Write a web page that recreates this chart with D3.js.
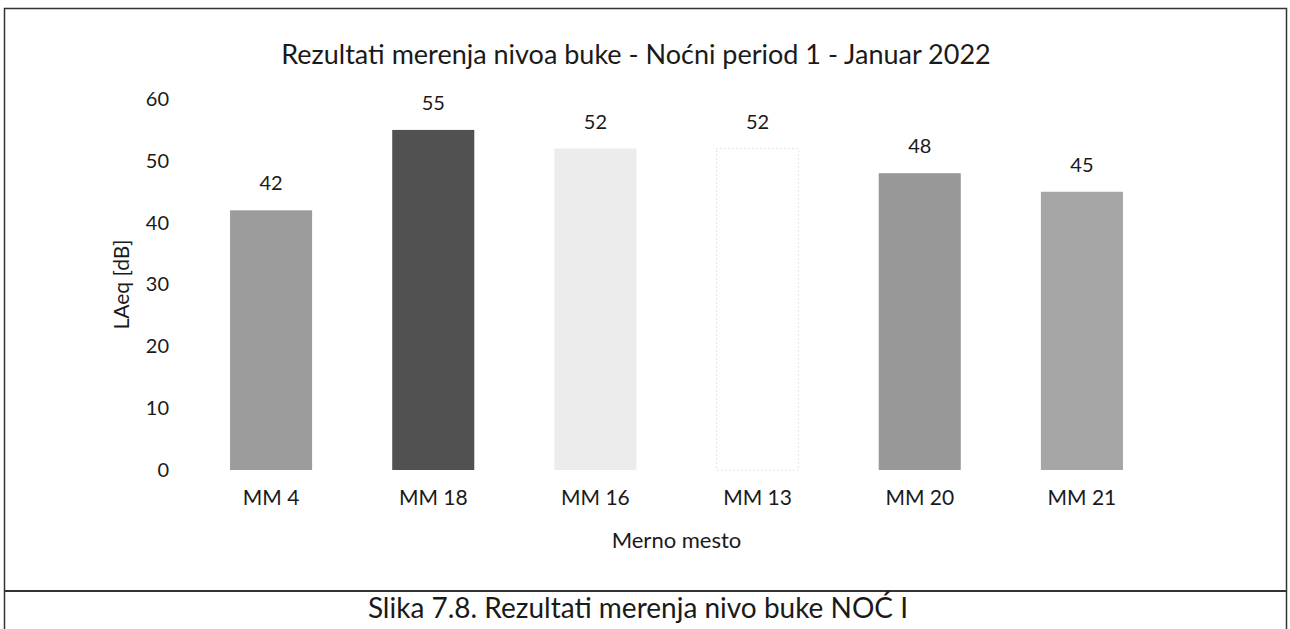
<!DOCTYPE html>
<html>
<head>
<meta charset="utf-8">
<script src="https://cdn.jsdelivr.net/npm/d3@7"></script>
<style>
  html, body { margin: 0; padding: 0; background: #fff; }
  svg { display: block; }
  text { font-family: Lato, "Open Sans", sans-serif; fill: #1a1a1a; }
</style>
</head>
<body>
<svg id="chart" width="1290" height="629"></svg>
<script>
// Measurement points and night-time LAeq levels
const categories = ["MM 4", "MM 18", "MM 16", "MM 13", "MM 20", "MM 21"];
const values = [42, 55, 52, 52, 48, 45];
const yTicks = [0, 10, 20, 30, 40, 50, 60];

const titleText = "Rezultati merenja nivoa buke - Noćni period 1 - Januar 2022";
const yLabel = "LAeq [dB]";
const xLabel = "Merno mesto";
const captionText = "Slika 7.8. Rezultati merenja nivo buke NOĆ I";

// Bar fills, one per measurement point
const barFills = ["#9c9c9c", "#515151", "#ececec", "#ffffff", "#989898", "#a6a6a6"];

const svg = d3.select("#chart");

// Frame around the figure and the caption row
svg.append("rect")
  .attr("x", 4.5).attr("y", 8.5).attr("width", 1282).attr("height", 640)
  .attr("fill", "none").attr("stroke", "#333").attr("stroke-width", 1.5);
svg.append("line")
  .attr("x1", 4.5).attr("x2", 1286.5).attr("y1", 591).attr("y2", 591)
  .attr("stroke", "#333").attr("stroke-width", 2);

const x = d3.scaleBand()
  .domain(categories)
  .range([190, 1163])
  .paddingInner(0.494)
  .paddingOuter(0.247);

const y = d3.scaleLinear().domain([0, 60]).range([470, 99]);

// Title
svg.append("text")
  .attr("x", 636).attr("y", 57)
  .attr("text-anchor", "middle").attr("dominant-baseline", "middle")
  .style("font-size", "27px")
  .text(titleText);

// Y axis: labels only, no line or ticks
const yAxis = d3.axisLeft(y).tickValues(yTicks).tickSize(0).tickPadding(0);
const gy = svg.append("g").attr("transform", "translate(169,0)").call(yAxis);
gy.select(".domain").remove();
gy.selectAll("text")
  .attr("font-family", null)
  .style("font-size", "20px").style("fill", "#1a1a1a");

// X axis: category labels below the bars
const xAxis = d3.axisBottom(x).tickSize(0).tickPadding(0);
const gx = svg.append("g").attr("transform", "translate(0,490)").call(xAxis);
gx.select(".domain").remove();
gx.selectAll("text")
  .attr("font-family", null)
  .style("font-size", "21px").style("fill", "#1a1a1a");

// Bars
const data = categories.map((c, i) => ({ c, v: values[i], fill: barFills[i] }));
svg.append("g").selectAll("rect")
  .data(data)
  .join("rect")
  .attr("x", d => x(d.c))
  .attr("y", d => y(d.v))
  .attr("width", x.bandwidth())
  .attr("height", d => y(0) - y(d.v))
  .attr("fill", d => d.fill)
  .attr("stroke", d => d.fill === "#ffffff" ? "#c8c8c8" : "none")
  .attr("stroke-dasharray", d => d.fill === "#ffffff" ? "1,3" : null);

// Value labels above the bars
svg.append("g").selectAll("text")
  .data(data)
  .join("text")
  .attr("x", d => x(d.c) + x.bandwidth() / 2)
  .attr("y", d => y(d.v) - 25)
  .attr("text-anchor", "middle").attr("dominant-baseline", "middle")
  .style("font-size", "20px")
  .text(d => d.v);

// Axis titles
svg.append("text")
  .attr("transform", `translate(124,${(y(0) + y(60)) / 2}) rotate(-90)`)
  .attr("text-anchor", "middle").attr("dominant-baseline", "middle")
  .style("font-size", "21px")
  .text(yLabel);

svg.append("text")
  .attr("x", (x.range()[0] + x.range()[1]) / 2).attr("y", 542)
  .attr("text-anchor", "middle").attr("dominant-baseline", "middle")
  .style("font-size", "22px")
  .text(xLabel);

// Figure caption
svg.append("text")
  .attr("x", 638).attr("y", 611)
  .attr("text-anchor", "middle").attr("dominant-baseline", "middle")
  .style("font-size", "28px")
  .text(captionText);
</script>
</body>
</html>
